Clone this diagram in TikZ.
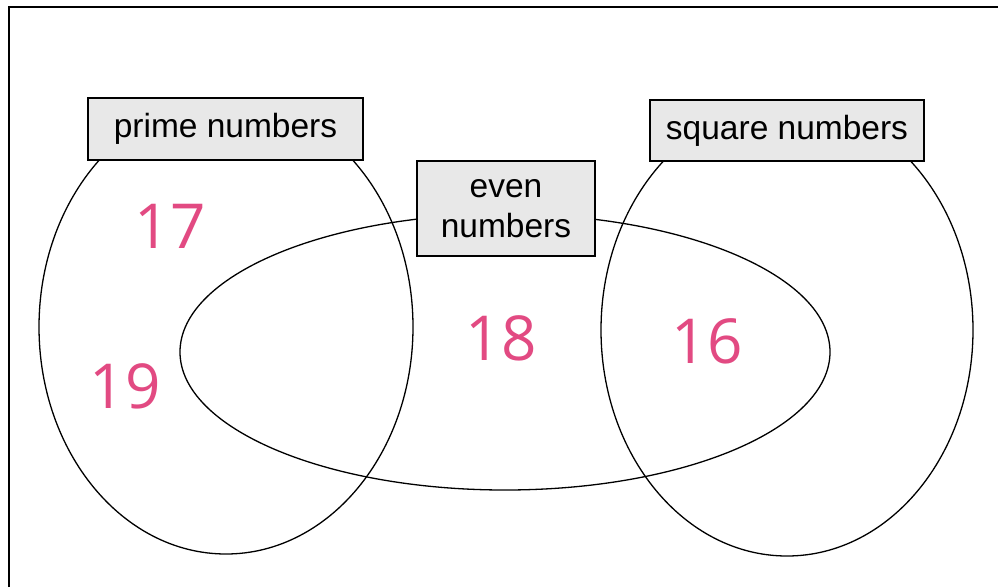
\documentclass[tikz,border=0pt]{standalone}
\usepackage{fontspec}
\setmainfont{Liberation Sans}
\newfontfamily\handfont{Open Sans}
\usetikzlibrary{shapes.geometric}
\definecolor{boxgray}{RGB}{232,232,232}
\definecolor{inkpink}{RGB}{226,74,130}
\tikzset{
  frameline/.style={line width=1.6pt, black},
  setline/.style={line width=1.3pt, black},
  labelbox/.style={draw=black, line width=1.8pt, fill=boxgray, inner sep=0pt,
    font=\fontsize{33.5}{40}\selectfont, align=center},
  numtext/.style={text=inkpink, inner sep=0pt, font=\handfont\fontsize{62}{62}\selectfont}
}
\begin{document}
\begin{tikzpicture}[x=1pt,y=-1pt]
\useasboundingbox (0,0) rectangle (998,587);
\fill[white] (0,0) rectangle (998,587);
% frame
\coordinate (fbl) at (9,587);
\coordinate (ftl) at (9,7);
\coordinate (ftr) at (998,7);
\draw[frameline] (fbl) -- (ftl) -- (ftr);
% sets
\draw[setline] (226,327) ellipse [x radius=187pt, y radius=227pt];
\draw[setline] (787,330) ellipse [x radius=186pt, y radius=226pt];
\draw[setline] (505,352) ellipse [x radius=325pt, y radius=138pt];
% labels
\node[labelbox, minimum width=275pt, minimum height=62pt] (prime) at (225.5,129) {prime numbers};
\node[labelbox, minimum width=274pt, minimum height=61pt] (square) at (787,130.5) {square numbers};
\node[labelbox, minimum width=178pt, minimum height=95pt] (even) at (506,208.5) {even\\numbers};
% numbers
\node[numtext] (n17) at (170,226) {17};
\node[numtext] (n19) at (125,386) {19};
\node[numtext] (n18) at (501,338) {18};
\node[numtext] (n16) at (707,341) {16};
\end{tikzpicture}
\end{document}
